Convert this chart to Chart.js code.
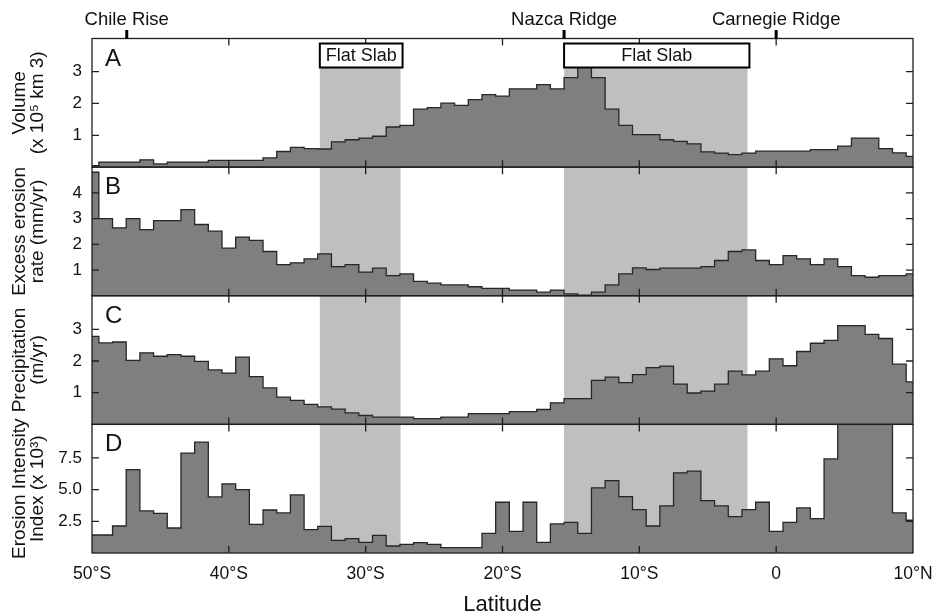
<!DOCTYPE html>
<html lang="en">
<head>
<meta charset="UTF-8">
<title>Latitude profiles</title>
<script src="https://cdn.jsdelivr.net/npm/chart.js@4.4.1/dist/chart.umd.min.js"></script>
<style>
  html, body { margin: 0; padding: 0; background: #fff; }
  #wrap { width: 934px; height: 615px; position: relative; }
</style>
</head>
<body>
<div id="wrap"><canvas id="profiles"></canvas></div>
<script>
// bins are 1 degree wide, centred on whole degrees (negative = south)
const latitude = [-50, -49, -48, -47, -46, -45, -44, -43, -42, -41, -40, -39, -38, -37, -36, -35,
  -34, -33, -32, -31, -30, -29, -28, -27, -26, -25, -24, -23, -22, -21, -20, -19, -18, -17, -16,
  -15, -14, -13, -12, -11, -10, -9, -8, -7, -6, -5, -4, -3, -2, -1, 0, 1, 2, 3, 4, 5, 6, 7, 8, 9, 10];

// A: volume (x 10^5 km3)
const volume = [0.05, 0.16, 0.16, 0.16, 0.23, 0.10, 0.16, 0.16, 0.16, 0.21, 0.21, 0.21, 0.21, 0.29, 0.49, 0.62,
  0.58, 0.57, 0.79, 0.86, 0.91, 0.97, 1.26, 1.31, 1.82, 1.87, 2.01, 1.94, 2.12, 2.28, 2.23, 2.46, 2.46, 2.59, 2.46,
  2.81, 3.20, 2.81, 1.82, 1.31, 1.02, 1.02, 0.86, 0.81, 0.73, 0.48, 0.44, 0.39, 0.44, 0.50, 0.50, 0.50, 0.50, 0.55, 0.55, 0.66, 0.91, 0.91, 0.58, 0.45, 0.34];

// B: excess erosion rate (mm/yr)
const erosionRate = [4.80, 3.00, 2.64, 3.00, 2.57, 2.92, 2.92, 3.35, 2.77, 2.51, 1.85, 2.28, 2.15, 1.72, 1.21, 1.28,
  1.43, 1.63, 1.13, 1.21, 0.92, 1.07, 0.78, 0.85, 0.56, 0.49, 0.42, 0.42, 0.35, 0.29, 0.29, 0.22, 0.22, 0.14, 0.22,
  0.07, 0.02, 0.14, 0.42, 0.85, 1.08, 1.02, 1.07, 1.07, 1.07, 1.13, 1.37, 1.72, 1.78, 1.37, 1.21, 1.56, 1.43, 1.21, 1.43, 1.13, 0.78, 0.72, 0.78, 0.78, 0.85];

// C: precipitation (m/yr)
const precipitation = [2.78, 2.57, 2.60, 2.02, 2.26, 2.15, 2.20, 2.15, 1.99, 1.72, 1.62, 2.12, 1.51, 1.15, 0.86, 0.76,
  0.63, 0.55, 0.48, 0.36, 0.28, 0.23, 0.23, 0.23, 0.18, 0.18, 0.23, 0.23, 0.34, 0.34, 0.34, 0.40, 0.40, 0.47, 0.68,
  0.81, 0.81, 1.39, 1.49, 1.32, 1.57, 1.79, 1.84, 1.27, 0.99, 1.05, 1.27, 1.68, 1.56, 1.68, 2.07, 1.85, 2.30, 2.56, 2.65, 3.12, 3.12, 2.84, 2.71, 1.90, 1.34];

// D: erosion intensity index (x 10^3), bins 5-8 N run off the top of the panel
const intensityIndex = [1.42, 1.42, 2.13, 6.58, 3.32, 3.13, 1.97, 7.87, 8.74, 4.42, 5.45, 5.00, 2.26, 3.39, 3.16, 4.58,
  1.84, 2.10, 1.00, 1.13, 0.84, 1.39, 0.55, 0.68, 0.82, 0.68, 0.42, 0.42, 0.42, 1.55, 4.00, 1.71, 4.00, 0.84, 2.29,
  2.42, 1.55, 5.13, 5.71, 4.45, 3.42, 2.13, 3.71, 6.32, 6.45, 4.13, 3.71, 2.87, 3.42, 4.00, 1.71, 2.42, 3.55, 2.71, 7.42, 12, 12, 12, 12, 3.16, 2.58];

const latTicks = [-50, -40, -30, -20, -10, 0, 10];
const volumeTicks = [1, 2, 3];
const erosionTicks = [1, 2, 3, 4];
const precipTicks = [1, 2, 3];
const intensityTicks = [2.5, 5, 7.5];

const flatSlabs = [[-33.35, -27.45], [-15.5, -2.1]];
const flatSlabLabels = ['Flat Slab', 'Flat Slab'];
const landmarkNames = ['Chile Rise', 'Nazca Ridge', 'Carnegie Ridge'];
const landmarkLat = [-47.46, -15.5, 0];
const panelLetters = ['A', 'B', 'C', 'D'];

const family = "'Liberation Sans', Arial, Helvetica, sans-serif";
Chart.defaults.font.family = family;
Chart.defaults.color = '#111';

const panelAxes = ['yA', 'yB', 'yC', 'yD'];

function latLabel(v) {
  if (v < 0) return (-v) + '°S';
  if (v > 0) return v + '°N';
  return '0';
}

function panelScale(title, tickList, max, weight, fmt) {
  return {
    type: 'linear',
    position: 'left',
    stack: 'panels',
    stackWeight: 1,
    weight: weight,
    min: 0,
    max: max,
    afterBuildTicks: s => { s.ticks = tickList.map(v => ({ value: v })); },
    afterFit: s => { s.width = 92; s.paddingTop = 0; s.paddingBottom = 0; },
    grid: { display: false, drawTicks: false },
    border: { display: false },
    ticks: { padding: 10, font: { size: 17 }, color: '#111', callback: fmt || (v => String(v)) },
    title: { display: true, text: title, color: '#111', font: { size: 19, lineHeight: 0.95 }, padding: { top: 11, bottom: 0 } }
  };
}

function series(values, axis) {
  return {
    data: latitude.map((x, i) => ({ x: x, y: values[i] })),
    yAxisID: axis,
    xAxisID: 'x',
    stepped: 'middle',
    fill: 'origin',
    backgroundColor: '#7f7f7f',
    borderColor: '#262626',
    borderWidth: 1.3,
    borderJoinStyle: 'miter',
    pointRadius: 0,
    pointHoverRadius: 0
  };
}

// clip every dataset to its own panel (stacked axes share one chart area)
const panelClip = {
  id: 'panelClip',
  beforeDatasetDraw(chart, args) {
    const y = args.meta.yScale, area = chart.chartArea, ctx = chart.ctx;
    ctx.save();
    ctx.beginPath();
    ctx.rect(area.left, y.top, area.right - area.left, y.bottom - y.top);
    ctx.clip();
  },
  afterDatasetDraw(chart) {
    chart.ctx.restore();
  }
};
// filler has to run inside that clip, so put it after panelClip
const filler = Chart.registry.getPlugin('filler');
Chart.register(panelClip);
Chart.unregister(filler);
Chart.register(filler);

const panelDecor = {
  id: 'panelDecor',
  beforeDatasetsDraw(chart) {
    const { ctx, chartArea: area, scales } = chart;
    const x = scales.x;
    ctx.save();
    ctx.fillStyle = '#bfbfbf';
    flatSlabs.forEach(([a, b]) => {
      const x1 = x.getPixelForValue(a), x2 = x.getPixelForValue(b);
      ctx.fillRect(x1, area.top + 29, x2 - x1, area.bottom - area.top - 29);
    });
    ctx.restore();
  },
  afterDatasetsDraw(chart) {
    const { ctx, chartArea: area, scales } = chart;
    const x = scales.x;
    ctx.save();
    ctx.strokeStyle = '#1e1e1e';
    ctx.lineWidth = 1.3;
    panelAxes.forEach((id, p) => {
      const y = scales[id];
      ctx.beginPath();
      y.ticks.forEach(t => {
        const py = y.getPixelForValue(t.value);
        ctx.moveTo(area.left, py); ctx.lineTo(area.left + 7, py);
        ctx.moveTo(area.right, py); ctx.lineTo(area.right - 7, py);
      });
      x.ticks.forEach(t => {
        if (t.value <= x.min || t.value >= x.max) return;
        const px = x.getPixelForValue(t.value);
        ctx.moveTo(px, y.top); ctx.lineTo(px, y.top + 7);
        ctx.moveTo(px, y.bottom); ctx.lineTo(px, y.bottom - 7);
      });
      ctx.stroke();
      ctx.strokeRect(area.left, y.top, area.right - area.left, y.bottom - y.top);

      ctx.fillStyle = '#111';
      ctx.font = '24px ' + family;
      ctx.textAlign = 'left';
      ctx.textBaseline = 'alphabetic';
      ctx.fillText(panelLetters[p], area.left + 13, y.top + 27);
    });

    // flat slab boxes
    ctx.font = '18px ' + family;
    ctx.textAlign = 'center';
    ctx.textBaseline = 'middle';
    flatSlabs.forEach(([a, b], i) => {
      const x1 = x.getPixelForValue(a), x2 = x.getPixelForValue(b) + 2;
      ctx.fillStyle = '#fff';
      ctx.fillRect(x1, area.top + 5, x2 - x1, 24);
      ctx.lineWidth = 2;
      ctx.strokeStyle = '#000';
      ctx.strokeRect(x1, area.top + 5, x2 - x1, 24);
      ctx.fillStyle = '#111';
      ctx.fillText(flatSlabLabels[i], (x1 + x2) / 2, area.top + 17.5);
    });

    // ridges along the top
    ctx.font = '18.5px ' + family;
    ctx.textBaseline = 'alphabetic';
    landmarkLat.forEach((lat, i) => {
      const px = x.getPixelForValue(lat);
      ctx.fillStyle = '#000';
      ctx.fillRect(px - 1.5, area.top - 8.5, 3, 8.5);
      ctx.fillStyle = '#111';
      ctx.fillText(landmarkNames[i], px, area.top - 14);
    });
    ctx.restore();
  }
};

new Chart(document.getElementById('profiles'), {
  type: 'line',
  data: {
    datasets: [
      series(volume, 'yA'),
      series(erosionRate, 'yB'),
      series(precipitation, 'yC'),
      series(intensityIndex, 'yD')
    ]
  },
  options: {
    responsive: true,
    maintainAspectRatio: false,
    animation: false,
    layout: { padding: { top: 38.5, right: 21, bottom: 0, left: 0 } },
    plugins: { legend: { display: false }, tooltip: { enabled: false } },
    scales: {
      x: {
        type: 'linear',
        position: 'bottom',
        min: -50,
        max: 10,
        afterBuildTicks: s => { s.ticks = latTicks.map(v => ({ value: v })); },
        afterFit: s => { s.height = 62; s.paddingLeft = 0; s.paddingRight = 0; },
        grid: { display: false, drawTicks: false },
        border: { display: false },
        ticks: { padding: 11, autoSkip: false, maxRotation: 0, font: { size: 17.5 }, color: '#111', callback: v => latLabel(v) },
        title: { display: true, text: 'Latitude', color: '#111', font: { size: 22, lineHeight: 0.91 }, padding: { top: 0, bottom: 0 } }
      },
      yD: panelScale(['Erosion Intensity', 'Index (x 10³)'], intensityTicks, 10.14, 1, v => v.toFixed(1)),
      yC: panelScale(['Precipitation', '(m/yr)'], precipTicks, 4.06, 2),
      yB: panelScale(['Excess erosion', 'rate (mm/yr)'], erosionTicks, 5.0, 3),
      yA: panelScale(['Volume', '(x 10⁵ km 3)'], volumeTicks, 4.04, 4)
    }
  },
  plugins: [panelDecor]
});
</script>
</body>
</html>
